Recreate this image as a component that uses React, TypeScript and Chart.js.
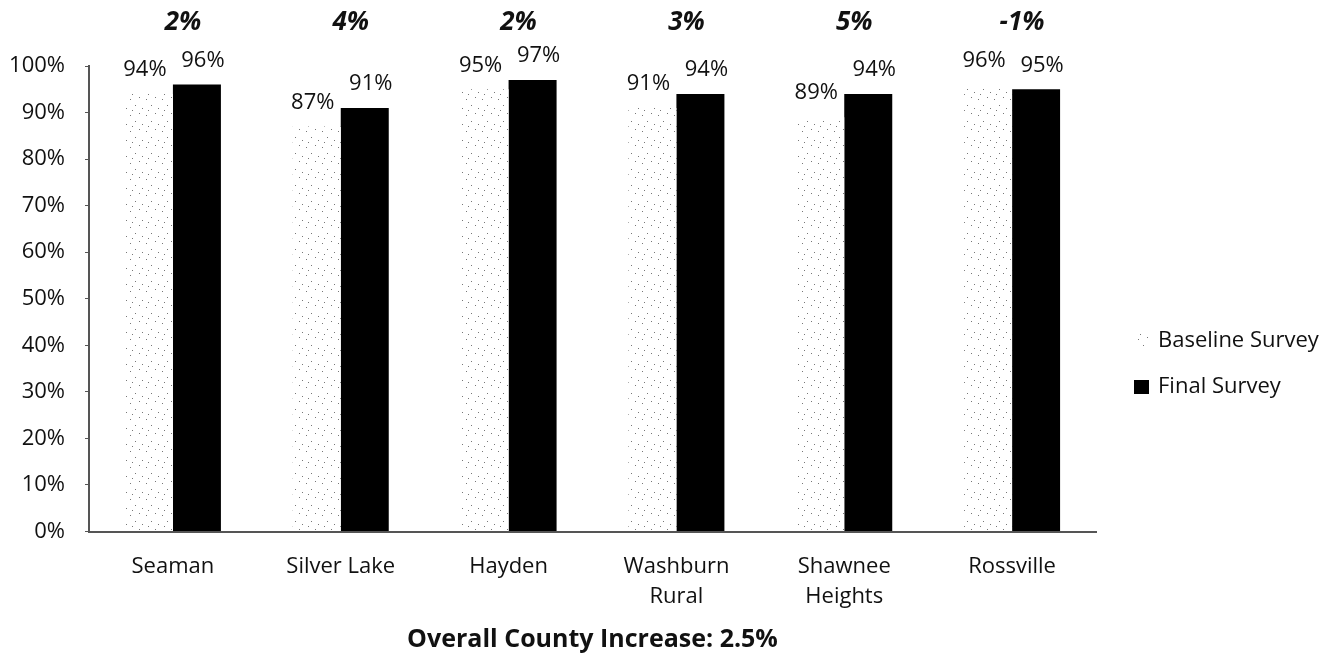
import React, { useEffect, useRef } from "react";
import { Chart, registerables } from "chart.js";

Chart.register(...registerables);

const categories: (string | string[])[] = [
  "Seaman",
  "Silver Lake",
  "Hayden",
  ["Washburn", "Rural"],
  ["Shawnee", "Heights"],
  "Rossville",
];
const baselineValues = [94, 87, 95, 91, 89, 96];
const finalValues = [96, 91, 97, 94, 94, 95];
const changeLabels = ["2%", "4%", "2%", "3%", "5%", "-1%"];
const yTicks = [0, 10, 20, 30, 40, 50, 60, 70, 80, 90, 100];
const seriesNames = ["Baseline Survey", "Final Survey"];
const titleText = "Overall County Increase: 2.5%";

const FONT = "'Open Sans', sans-serif";

function makePattern(): CanvasPattern | string {
  const c = document.createElement("canvas");
  c.width = 16;
  c.height = 16;
  const ctx = c.getContext("2d");
  if (!ctx) return "#f2f2f2";
  ctx.fillStyle = "#ffffff";
  ctx.fillRect(0, 0, 16, 16);
  ctx.fillStyle = "#777777";
  const dots = [
    [2, 3],
    [11, 1],
    [7, 9],
    [14, 12],
    [4, 14],
  ];
  dots.forEach(([x, y]) => ctx.fillRect(x, y, 1, 1));
  const p = ctx.createPattern(c, "repeat");
  return p || "#f2f2f2";
}

export default function App() {
  const ref = useRef<HTMLCanvasElement | null>(null);

  useEffect(() => {
    if (!ref.current) return;
    const pattern = makePattern();

    const labelPlugin = {
      id: "labelPlugin",
      afterDatasetsDraw(chart: any) {
        const ctx = chart.ctx;
        ctx.save();
        ctx.fillStyle = "#111";
        ctx.textAlign = "center";
        ctx.textBaseline = "middle";
        ctx.font = `22px ${FONT}`;
        chart.data.datasets.forEach((ds: any, di: number) => {
          const meta = chart.getDatasetMeta(di);
          const dx = di === 0 ? -4 : 6;
          meta.data.forEach((el: any, i: number) => {
            ctx.fillText(`${ds.data[i]}%`, el.x + dx, el.y - 24);
          });
        });
        // change labels above each group
        const xScale = chart.scales.x;
        ctx.font = `italic bold 26px ${FONT}`;
        changeLabels.forEach((t, i) => {
          ctx.fillText(t, xScale.getPixelForValue(i) + 10, 23);
        });
        // legend
        ctx.font = `22px ${FONT}`;
        ctx.textAlign = "left";
        const lx = chart.chartArea.right + 62;
        const ly = 341;
        ctx.fillStyle = pattern as any;
        ctx.fillRect(lx - 24, ly - 7, 14, 14);
        ctx.fillStyle = "#111";
        ctx.fillText(seriesNames[0], lx, ly);
        ctx.fillStyle = "#000";
        ctx.fillRect(lx - 24, ly + 46 - 7, 15, 14);
        ctx.fillStyle = "#111";
        ctx.fillText(seriesNames[1], lx, ly + 46);
        ctx.restore();
      },
    };

    const chart = new Chart(ref.current, {
      type: "bar",
      data: {
        labels: categories,
        datasets: [
          {
            label: seriesNames[0],
            data: baselineValues,
            backgroundColor: pattern as any,
            borderWidth: 0,
            categoryPercentage: 0.572,
            barPercentage: 1,
          },
          {
            label: seriesNames[1],
            data: finalValues,
            backgroundColor: "#000000",
            borderWidth: 0,
            categoryPercentage: 0.572,
            barPercentage: 1,
          },
        ],
      },
      options: {
        responsive: false,
        animation: false,
        layout: { padding: { left: 0, right: 234, top: 66, bottom: 5 } },
        plugins: {
          legend: { display: false },
          tooltip: { enabled: false },
          title: {
            display: true,
            text: titleText,
            position: "bottom",
            fullSize: false,
            color: "#111",
            font: { family: FONT, size: 25, weight: "bold", lineHeight: 1.1 },
            padding: { top: 0, bottom: 0 },
          },
        },
        scales: {
          x: {
            grid: { display: false, drawTicks: false },
            border: { display: true, color: "#555", width: 2 },
            ticks: {
              color: "#111",
              font: { family: FONT, size: 22, lineHeight: 30 / 22 },
              padding: 20,
              maxRotation: 0,
              autoSkip: false,
            },
            afterFit: (s: any) => {
              s.height = 95;
            },
          },
          y: {
            min: 0,
            max: 100,
            afterBuildTicks: (s: any) => {
              s.ticks = yTicks.map((v) => ({ value: v }));
            },
            grid: {
              display: true,
              drawOnChartArea: false,
              drawTicks: true,
              tickLength: 4,
              color: "#555",
            },
            border: { display: true, color: "#555", width: 2 },
            ticks: {
              color: "#111",
              font: { family: FONT, size: 22 },
              padding: 20,
              callback: (v: any) => `${v}%`,
            },
            afterFit: (s: any) => {
              s.width = 89;
            },
          },
        },
      },
      plugins: [labelPlugin],
    });
    return () => chart.destroy();
  }, []);

  return (
    <div
      style={{
        position: "fixed",
        left: 0,
        top: 0,
        width: 1330,
        height: 659,
        background: "#fff",
      }}
    >
      <canvas ref={ref} width={1330} height={659} style={{ display: "block" }} />
    </div>
  );
}
